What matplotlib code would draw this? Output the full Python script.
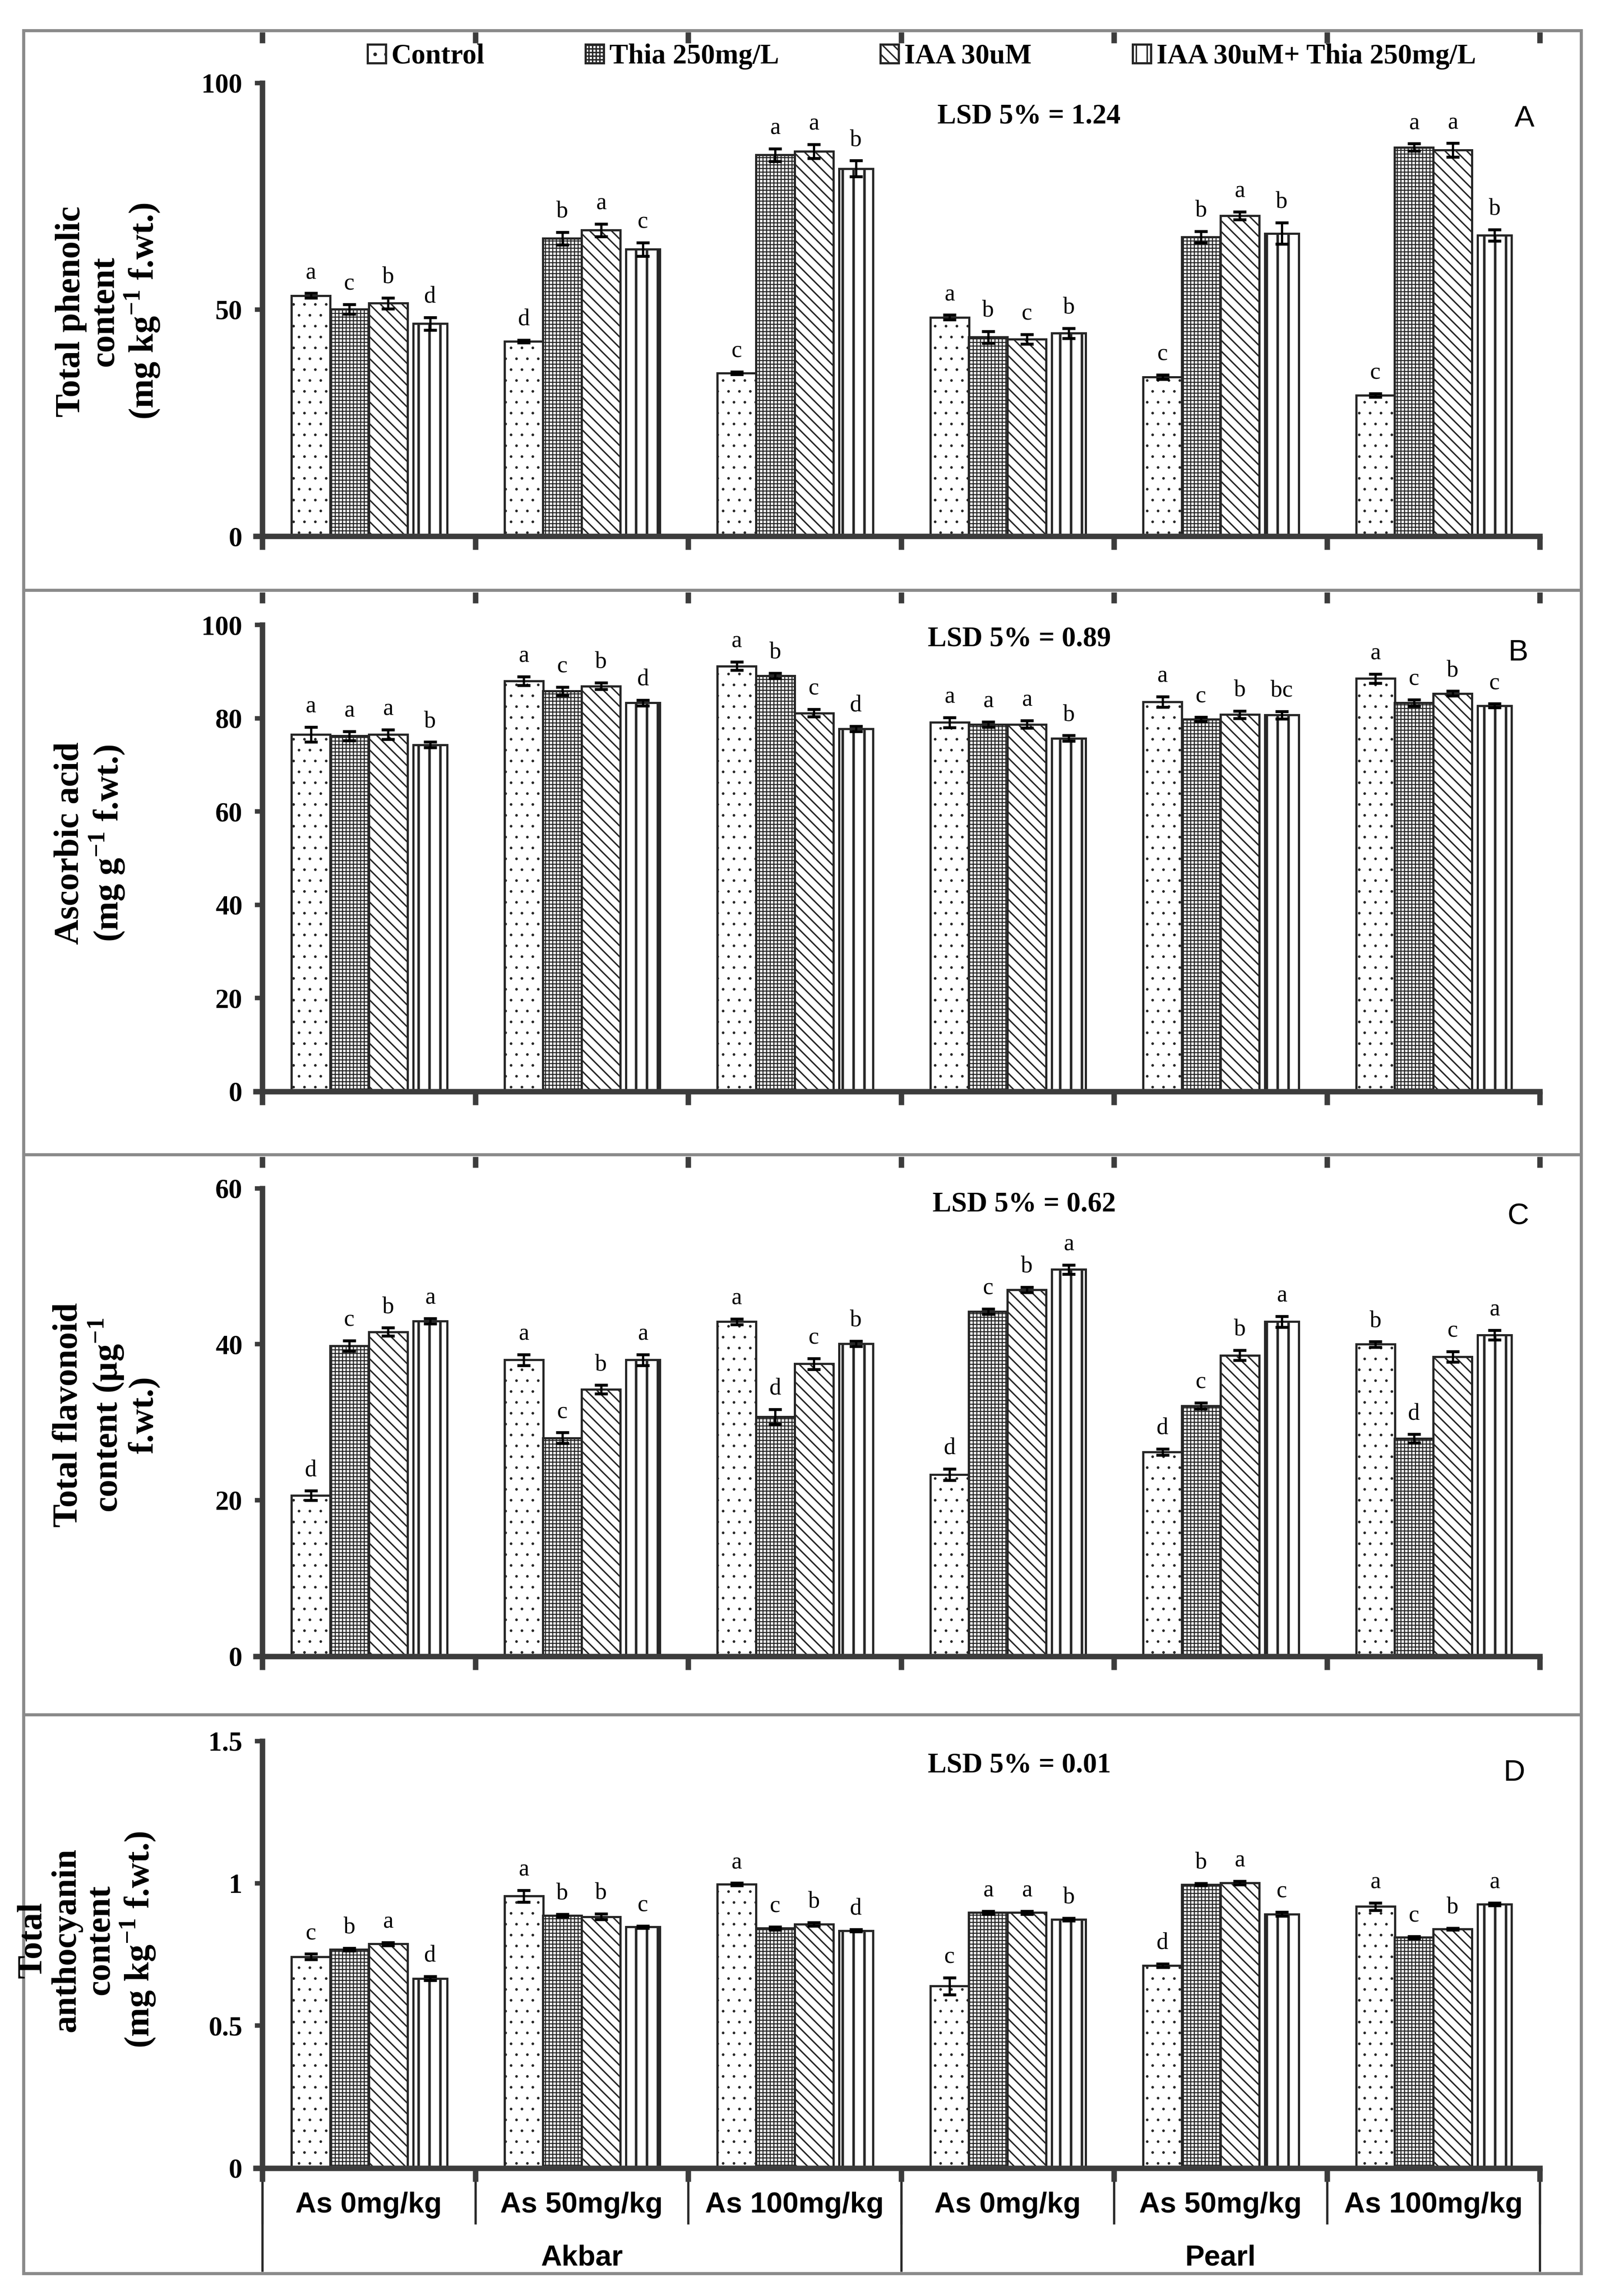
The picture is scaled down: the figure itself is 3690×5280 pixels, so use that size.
import matplotlib
matplotlib.use('Agg')
import matplotlib.pyplot as plt
from matplotlib.patches import Rectangle
from matplotlib.lines import Line2D
from matplotlib.font_manager import FontProperties
import matplotlib.transforms as mtransforms
import numpy as np

# ---------------- data ----------------
groups = ['As 0mg/kg', 'As 50mg/kg', 'As 100mg/kg', 'As 0mg/kg', 'As 50mg/kg', 'As 100mg/kg']
cultivars = ['Akbar', 'Pearl']
treatments = ['Control', 'Thia 250mg/L', 'IAA 30uM', 'IAA 30uM+ Thia 250mg/L']

phenolic_control = [53.1, 43.0, 36.0, 48.3, 35.1, 31.1]
phenolic_thia = [50.1, 65.7, 84.1, 43.9, 66.0, 85.8]
phenolic_iaa = [51.4, 67.5, 84.9, 43.5, 70.7, 85.2]
phenolic_combo = [46.9, 63.3, 81.1, 44.8, 66.8, 66.4]
phenolic_control_err = [0.5, 0.3, 0.3, 0.5, 0.5, 0.4]
phenolic_thia_err = [1.05, 1.4, 1.37, 1.3, 1.23, 0.8]
phenolic_iaa_err = [1.2, 1.4, 1.55, 1.05, 0.9, 1.5]
phenolic_combo_err = [1.4, 1.5, 1.76, 1.1, 2.36, 1.27]
phenolic_control_let = ['a', 'd', 'c', 'a', 'c', 'c']
phenolic_thia_let = ['c', 'b', 'a', 'b', 'b', 'a']
phenolic_iaa_let = ['b', 'a', 'a', 'c', 'a', 'a']
phenolic_combo_let = ['d', 'c', 'b', 'b', 'b', 'b']

ascorbic_control = [76.5, 88.0, 91.2, 79.1, 83.5, 88.5]
ascorbic_thia = [76.2, 85.8, 89.1, 78.7, 79.8, 83.3]
ascorbic_iaa = [76.5, 86.9, 81.1, 78.7, 80.8, 85.3]
ascorbic_combo = [74.3, 83.3, 77.7, 75.7, 80.7, 82.7]
ascorbic_control_err = [1.6, 0.9, 0.87, 1.1, 1.1, 0.95]
ascorbic_thia_err = [1.0, 0.9, 0.6, 0.57, 0.45, 0.7]
ascorbic_iaa_err = [1.05, 0.7, 0.8, 0.8, 0.8, 0.5]
ascorbic_combo_err = [0.6, 0.6, 0.57, 0.6, 0.8, 0.4]
ascorbic_control_let = ['a', 'a', 'a', 'a', 'a', 'a']
ascorbic_thia_let = ['a', 'c', 'b', 'a', 'c', 'c']
ascorbic_iaa_let = ['a', 'b', 'c', 'a', 'b', 'b']
ascorbic_combo_let = ['b', 'd', 'd', 'b', 'bc', 'c']

flavonoid_control = [20.6, 38.0, 42.9, 23.3, 26.2, 40.0]
flavonoid_thia = [39.8, 28.0, 30.7, 44.2, 32.1, 27.9]
flavonoid_iaa = [41.6, 34.2, 37.5, 47.0, 38.6, 38.4]
flavonoid_combo = [43.0, 38.0, 40.1, 49.6, 42.9, 41.2]
flavonoid_control_err = [0.6, 0.68, 0.38, 0.72, 0.4, 0.34]
flavonoid_thia_err = [0.68, 0.68, 0.95, 0.34, 0.4, 0.56]
flavonoid_iaa_err = [0.52, 0.56, 0.7, 0.34, 0.63, 0.68]
flavonoid_combo_err = [0.34, 0.68, 0.34, 0.59, 0.68, 0.63]
flavonoid_control_let = ['d', 'a', 'a', 'd', 'd', 'b']
flavonoid_thia_let = ['c', 'c', 'd', 'c', 'c', 'd']
flavonoid_iaa_let = ['b', 'b', 'c', 'b', 'b', 'c']
flavonoid_combo_let = ['a', 'a', 'b', 'a', 'a', 'a']

antho_control = [0.742, 0.955, 0.997, 0.639, 0.712, 0.919]
antho_thia = [0.768, 0.887, 0.842, 0.897, 0.996, 0.810]
antho_iaa = [0.787, 0.883, 0.857, 0.897, 1.002, 0.840]
antho_combo = [0.666, 0.847, 0.834, 0.873, 0.892, 0.927]
antho_control_err = [0.010, 0.021, 0.004, 0.030, 0.006, 0.013]
antho_thia_err = [0.005, 0.005, 0.006, 0.006, 0.004, 0.004]
antho_iaa_err = [0.005, 0.010, 0.006, 0.005, 0.006, 0.003]
antho_combo_err = [0.007, 0.004, 0.004, 0.005, 0.007, 0.005]
antho_control_let = ['c', 'a', 'a', 'c', 'd', 'a']
antho_thia_let = ['b', 'b', 'c', 'a', 'b', 'c']
antho_iaa_let = ['a', 'b', 'b', 'a', 'a', 'b']
antho_combo_let = ['d', 'c', 'd', 'b', 'c', 'a']

lsd_texts = ['LSD 5% = 1.24', 'LSD 5% = 0.89', 'LSD 5% = 0.62', 'LSD 5% = 0.01']
panel_letters = ['A', 'B', 'C', 'D']
ylabels = ['Total phenolic\ncontent\n(mg kg$^{\\mathbf{-1}}$ f.wt.)',
           'Ascorbic acid\n(mg g$^{\\mathbf{-1}}$ f.wt.)',
           'Total flavonoid\ncontent (\u00b5g$^{\\mathbf{-1}}$\nf.wt.)',
           'Total\nanthocyanin\ncontent\n(mg kg$^{\\mathbf{-1}}$ f.wt.)']
yticks_list = [[0, 50, 100], [0, 20, 40, 60, 80, 100], [0, 20, 40, 60], [0, 0.5, 1.0, 1.5]]
yticklabels_list = [['0', '50', '100'], ['0', '20', '40', '60', '80', '100'],
                    ['0', '20', '40', '60'], ['0', '0.5', '1', '1.5']]

panels = [
    ([phenolic_control, phenolic_thia, phenolic_iaa, phenolic_combo],
     [phenolic_control_err, phenolic_thia_err, phenolic_iaa_err, phenolic_combo_err],
     [phenolic_control_let, phenolic_thia_let, phenolic_iaa_let, phenolic_combo_let]),
    ([ascorbic_control, ascorbic_thia, ascorbic_iaa, ascorbic_combo],
     [ascorbic_control_err, ascorbic_thia_err, ascorbic_iaa_err, ascorbic_combo_err],
     [ascorbic_control_let, ascorbic_thia_let, ascorbic_iaa_let, ascorbic_combo_let]),
    ([flavonoid_control, flavonoid_thia, flavonoid_iaa, flavonoid_combo],
     [flavonoid_control_err, flavonoid_thia_err, flavonoid_iaa_err, flavonoid_combo_err],
     [flavonoid_control_let, flavonoid_thia_let, flavonoid_iaa_let, flavonoid_combo_let]),
    ([antho_control, antho_thia, antho_iaa, antho_combo],
     [antho_control_err, antho_thia_err, antho_iaa_err, antho_combo_err],
     [antho_control_let, antho_thia_let, antho_iaa_let, antho_combo_let]),
]

# ---------------- style / layout ----------------
plt.rcParams['mathtext.fontset'] = 'custom'
plt.rcParams['mathtext.rm'] = 'Liberation Serif:bold'
plt.rcParams['mathtext.bf'] = 'Liberation Serif:bold'
plt.rcParams['hatch.linewidth'] = 1.6

SERIF = 'Liberation Serif'
SANS = 'Liberation Sans'
AX_COLOR = '#3c3c3c'
EDGE = '#262626'

W, H = 3690, 5280
DPI = 150
fig = plt.figure(figsize=(W / DPI, H / DPI), dpi=DPI)
fig.patch.set_facecolor('white')


def fx(px):
    return px / W


def fy(py):
    return 1 - py / H


hatches = ['.', '+++', '\\\\', '|']
hatch_lw = [0.5, 1.2, 1.6, 2.8]
widths = [0.182, 0.182, 0.182, 0.16]
offsets = [-0.272, -0.091, 0.091, 0.288]
boundaries = np.arange(-0.5, 6.0, 1.0)
x = np.arange(len(groups))

# axes pixel geometry (y of 0, top, ylim top)
AX_LEFT, AX_RIGHT = 603, 3540
ax_geom = [(1233, 74, 111.2), (2510, 1362, 107.0), (3808.5, 2660, 64.07), (4985.7, 4003.7, 1.5)]
lsd_pos = [(2366, 267), (2344, 1469), (2355, 2769), (2344, 4060)]
letter_pos = [(3505, 273), (3490, 1501), (3490, 2797), (3481, 4077)]
ylabel_pos = [(250, 716), (208, 1939), (245, 3254), (201, 4461)]

legend_handles = None
for p, (vals_s, errs_s, lets_s) in enumerate(panels):
    ybot, ytop_px, ylim_top = ax_geom[p]
    ax = fig.add_axes([fx(AX_LEFT), fy(ybot), (AX_RIGHT - AX_LEFT) / W, (ybot - ytop_px) / H])
    handles = []
    for i in range(4):
        with plt.rc_context({'hatch.linewidth': hatch_lw[i]}):
            bars = ax.bar(x + offsets[i], vals_s[i], width=widths[i], facecolor='white',
                          edgecolor=EDGE, linewidth=2.4, hatch=hatches[i],
                          label=treatments[i], zorder=2)
        handles.append(bars)
        ax.errorbar(x + offsets[i], vals_s[i], yerr=errs_s[i], fmt='none', ecolor='black',
                    elinewidth=2.5, capsize=7, capthick=3.2, zorder=3)
        for xi, v, e, l in zip(x + offsets[i], vals_s[i], errs_s[i], lets_s[i]):
            ax.annotate(l, (xi, v + e), xytext=(0, 16), textcoords='offset points',
                        ha='center', va='baseline', fontsize=26, family=SERIF, zorder=4)
    if legend_handles is None:
        legend_handles = handles

    ax.set_xlim(-0.5, 5.5)
    ax.set_ylim(0, ylim_top)
    ax.patch.set_alpha(0)
    for s in ['top', 'right']:
        ax.spines[s].set_visible(False)
    ax.spines['left'].set_bounds(0, yticks_list[p][-1])
    ax.spines['bottom'].set_bounds(-0.53, 5.5)
    for s in ['left', 'bottom']:
        ax.spines[s].set_linewidth(6)
        ax.spines[s].set_color(AX_COLOR)
    ax.set_yticks(yticks_list[p], labels=yticklabels_list[p])
    ax.tick_params(axis='y', direction='out', length=8, width=5, color=AX_COLOR,
                   pad=14, labelsize=30)
    for lab in ax.get_yticklabels():
        lab.set_fontfamily(SERIF)
        lab.set_fontweight('bold')

    if p < 3:
        ax.set_xticks(boundaries, labels=[''] * len(boundaries))
        ax.tick_params(axis='x', direction='out', length=15, width=6, color=AX_COLOR)
        sec = ax.secondary_xaxis('top')
        sec.set_xticks(boundaries, labels=[''] * len(boundaries))
        sec.tick_params(axis='x', direction='in', length=12, width=6, color=AX_COLOR)
        sec.spines['top'].set_visible(False)
    else:
        ax.set_xticks(x, labels=groups)
        ax.set_xticks(boundaries, minor=True)
        ax.tick_params(axis='x', which='major', length=0, pad=26, labelsize=32)
        ax.tick_params(axis='x', which='minor', direction='out', length=15, width=6,
                       color=AX_COLOR)
        for lab in ax.get_xticklabels():
            lab.set_fontfamily(SANS)
            lab.set_fontweight('bold')
        sec1 = ax.secondary_xaxis('bottom')
        sec1.set_xticks(boundaries, labels=[''] * len(boundaries))
        sec1.tick_params(axis='x', direction='out', length=62, width=2.5, color='#2a2a2a')
        sec1.spines['bottom'].set_visible(False)
        sec2 = ax.secondary_xaxis('bottom')
        sec2.set_xticks([-0.5, 2.5, 5.5], labels=['', '', ''])
        sec2.tick_params(axis='x', direction='out', length=114, width=2.5, color='#2a2a2a')
        sec2.spines['bottom'].set_visible(False)
        trans = mtransforms.blended_transform_factory(ax.transData, ax.transAxes)
        ycult = -(5192 - ybot) / (ybot - ytop_px)
        for xc, name in zip([1, 4], cultivars):
            ax.text(xc, ycult, name, transform=trans, ha='center', va='center',
                    fontsize=32, fontweight='bold', family=SANS)

    fig.text(fx(lsd_pos[p][0]), fy(lsd_pos[p][1]), lsd_texts[p], ha='center', va='center',
             fontsize=31, fontweight='bold', family=SERIF)
    fig.text(fx(letter_pos[p][0]), fy(letter_pos[p][1]), panel_letters[p], ha='center',
             va='center', fontsize=33, family=SANS)
    fig.text(fx(ylabel_pos[p][0]), fy(ylabel_pos[p][1]), ylabels[p], rotation=90,
             ha='center', va='center', multialignment='center', fontsize=38.5,
             fontweight='bold', family=SERIF, linespacing=1.08)

# legend
fig.legend(legend_handles, treatments, loc='center', bbox_to_anchor=(fx(2119), fy(130)),
           ncol=4, frameon=False, prop=FontProperties(family=SERIF, weight='bold', size=31),
           handlelength=0.65, handleheight=0.65, handletextpad=0.2, columnspacing=3.6,
           borderaxespad=0, borderpad=0)

# panel frames
FRAME = '#8a8a8a'
fig.add_artist(Rectangle((fx(54), fy(5228)), (3635 - 54) / W, (5228 - 70) / H, fill=False,
                         edgecolor=FRAME, linewidth=3.4, transform=fig.transFigure, zorder=0))
for ysep in [1357, 2655, 3943]:
    fig.add_artist(Line2D([fx(54), fx(3635)], [fy(ysep), fy(ysep)], color=FRAME,
                          linewidth=3.4, transform=fig.transFigure, zorder=0))

fig.savefig('out.png', dpi=DPI, facecolor='white')
